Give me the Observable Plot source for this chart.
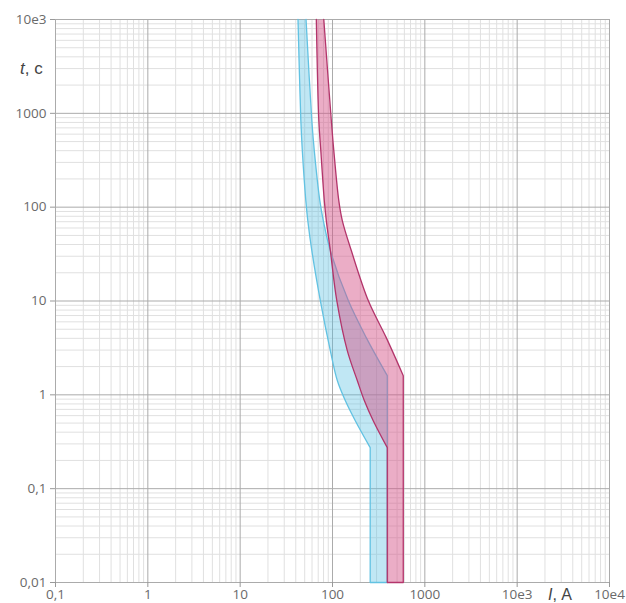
<!DOCTYPE html>
<html><head><meta charset="utf-8">
<script src="https://cdn.jsdelivr.net/npm/d3@7"></script>
<script src="https://cdn.jsdelivr.net/npm/@observablehq/plot@0.6"></script>
<style>body{margin:0;background:#fff}#chart{width:626px;height:603px}</style>
</head><body><div id="chart"></div>
<script>
// Axis ticks
const xMajor = [0.1, 1, 10, 100, 1000, 10000, 100000];
const xLabels = ["0,1", "1", "10", "100", "1000", "10e3", "10e4"];
const yMajor = [0.01, 0.1, 1, 10, 100, 1000, 10000];
const yLabels = ["0,01", "0,1", "1", "10", "100", "1000", "10e3"];

// Blue band (current I, A ; time t, s)
const blueLeftI  = [42.3, 45.4, 47.1, 51.4, 54.0, 59.7, 73.8, 94.7, 112.7, 137.5, 176.5, 256, 256];
const blueLeftT  = [10000, 838, 401, 117.5, 72, 34.5, 10.1, 2.96, 1.42, 0.87, 0.53, 0.274, 0.01];
const blueRightI = [51.7, 59.7, 63.5, 72.9, 79.5, 94.7, 148.3, 232, 392, 392];
const blueRightT = [10000, 838, 401, 117.5, 72, 34.5, 10.1, 4.07, 1.6, 0.01];

// Pink band
const pinkLeftI  = [66.8, 71.1, 74.7, 81.5, 85.7, 94.7, 111.3, 144.6, 185.5, 221, 276, 392, 392];
const pinkLeftT  = [10000, 838, 401, 117.5, 72, 34.5, 10.1, 2.96, 1.42, 0.87, 0.53, 0.274, 0.01];
const pinkRightI = [80.5, 97.1, 103.3, 117.0, 127.7, 159.8, 244, 382, 584, 584];
const pinkRightT = [10000, 838, 401, 117.5, 72, 34.5, 10.1, 4.07, 1.6, 0.01];

// Closed outline: left edge top->bottom, right edge bottom->top.
// The knee and bottom corners are repeated so the smooth curve keeps them sharp.
function poly(li, lt, ri, rt) {
  const pts = (I, T) => I.map((v, k) => ({I: v, t: T[k]}));
  const withCorners = arr => {
    const n = arr.length, out = [];
    arr.forEach((p, k) => { out.push(p); if (k >= n - 2) out.push(p); });
    return out;
  };
  return withCorners(pts(li, lt)).concat(withCorners(pts(ri, rt)).reverse());
}
const bluePoly = poly(blueLeftI, blueLeftT, blueRightI, blueRightT);
const pinkPoly = poly(pinkLeftI, pinkLeftT, pinkRightI, pinkRightT);

function minors(majors) {
  const out = [];
  for (let k = 0; k < majors.length - 1; k++)
    for (let m = 2; m <= 9; m++) out.push(majors[k] * m);
  return out;
}
const xMinor = minors(xMajor);
const yMinor = minors(yMajor);

const font = "'Open Sans', sans-serif";
const chart = Plot.plot({
  width: 626, height: 603,
  marginLeft: 55, marginRight: 17, marginTop: 19, marginBottom: 21,
  style: {fontFamily: font, fontSize: "13.5px", color: "#666", background: "#fff", overflow: "visible"},
  x: {type: "log", domain: [0.1, 100000]},
  y: {type: "log", domain: [0.01, 10000]},
  marks: [
    Plot.ruleX(xMinor, {stroke: "#e0e0e0", strokeWidth: 1}),
    Plot.ruleY(yMinor, {stroke: "#e0e0e0", strokeWidth: 1}),
    Plot.ruleX(xMajor, {stroke: "#ababab", strokeWidth: 1}),
    Plot.ruleY(yMajor, {stroke: "#ababab", strokeWidth: 1}),
    Plot.line(bluePoly, {x: "I", y: "t", curve: "catmull-rom", fill: "#5ac0e1", fillOpacity: 0.38, stroke: "#62c2e2", strokeWidth: 1.3}),
    Plot.line(pinkPoly, {x: "I", y: "t", curve: "catmull-rom", fill: "#d55387", fillOpacity: 0.48, stroke: "#b3356b", strokeWidth: 1.3}),
    Plot.axisX({ticks: xMajor, tickFormat: d => xLabels[xMajor.indexOf(d)], tickSize: 5, tickPadding: 2, stroke: "#999", fill: "#6a6a6a", label: null}),
    Plot.axisY({ticks: yMajor, tickFormat: d => yLabels[yMajor.indexOf(d)], tickSize: 5, tickPadding: 4, stroke: "#999", fill: "#6a6a6a", label: null})
  ]
});
document.getElementById("chart").appendChild(chart);

const svg = d3.select(chart);
const ty = svg.append("text").attr("x", 20).attr("y", 74).attr("text-anchor", "start")
  .style("font-family", "'Liberation Sans', Arial, sans-serif").style("font-size", "17px").attr("fill", "#444");
ty.append("tspan").style("font-style", "italic").text("t");
ty.append("tspan").text(", с");
const tx = svg.append("text").attr("x", 548).attr("y", 600).attr("text-anchor", "start")
  .style("font-family", "'Liberation Sans', Arial, sans-serif").style("font-size", "16px").attr("fill", "#444");
tx.append("tspan").style("font-style", "italic").text("I");
tx.append("tspan").text(", А");
</script></body></html>
